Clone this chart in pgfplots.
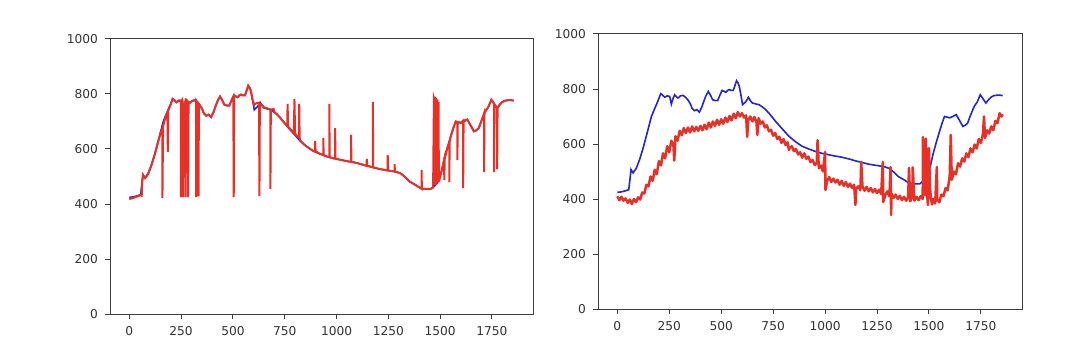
\documentclass[border=0pt]{standalone}
\usepackage{fontspec}
\setmainfont{DejaVu Sans}
\usepackage{pgfplots}
\pgfplotsset{compat=1.18}
\usepackage{pgfplotstable}
\definecolor{mblue}{RGB}{35,35,215}
\definecolor{mred}{RGB}{232,48,38}
\definecolor{frm}{RGB}{60,60,60}

\pgfplotstableread{
x y
0 424
20 426
40 430
55 434
62 480
66 507
76 495
92 513
108 545
124 585
140 630
152 665
164 700
176 722
188 743
200 765
209 783
218 778
228 770
240 775
252 773
260 745
268 765
276 779
284 772
292 767
304 775
316 777
328 770
339 761
350 748
360 730
371 721
383 725
395 716
407 735
419 761
428 778
438 791
448 778
459 761
471 758
483 758
494 778
504 795
513 792
523 788
531 795
539 798
548 795
558 795
566 812
574 830
581 822
587 810
595 778
603 743
610 748
618 753
625 762
631 770
640 758
650 749
665 746
682 743
698 735
714 725
730 712
746 697
762 682
794 655
826 628
858 608
889 592
921 582
953 573
985 566
1017 561
1049 556
1081 552
1113 546
1145 539
1177 533
1208 527
1240 523
1272 519
1292 516
1312 510
1332 497
1352 482
1368 475
1384 468
1398 461
1412 455
1434 455
1455 455
1471 464
1483 474
1495 488
1507 520
1519 561
1535 605
1551 646
1563 675
1575 700
1587 698
1599 695
1615 700
1631 707
1647 686
1663 664
1675 668
1686 676
1702 708
1718 737
1732 752
1747 779
1760 765
1774 749
1786 760
1798 770
1810 775
1822 777
1838 778
1855 776
}\blueT

\pgfplotstableread{
x y
0 418
20 422
40 428
55 432
60 430
62 478
66 505
76 494
92 510
108 543
124 582
140 628
152 660
160 676
160 422
163 682
176 720
184 733
186 590
188 740
200 762
209 782
218 776
228 770
240 777
249 776
249 425
251 772
256 779
260 758
260 425
262 760
266 700
268 765
272 780
272 425
274 778
280 774
284 772
284 425
286 770
292 768
304 775
316 778
322 774
322 425
324 775
328 770
334 766
334 428
336 764
339 761
350 748
360 730
371 721
383 725
395 716
407 735
419 761
428 778
438 791
448 778
459 761
471 758
483 758
494 778
502 790
504 425
506 795
513 792
523 788
531 795
539 798
548 795
558 795
566 812
574 830
581 822
587 810
595 778
603 760
610 765
618 768
626 766
628 429
630 764
640 760
650 752
665 748
681 744
681 455
683 744
697 745
700 735
714 725
730 712
746 697
762 684
764 764
766 682
780 670
794 658
797 782
800 655
812 645
820 640
820 764
822 640
826 630
845 615
858 608
889 592
897 593
897 629
899 592
921 582
936 578
936 640
938 578
953 573
965 570
965 764
967 570
985 566
993 565
993 676
995 565
1017 561
1049 556
1070 553
1070 651
1072 553
1081 552
1113 546
1145 539
1146 564
1148 539
1175 534
1175 771
1177 533
1208 527
1240 523
1247 522
1247 578
1249 522
1272 519
1280 518
1280 545
1282 518
1292 516
1312 510
1332 497
1352 482
1368 475
1384 468
1398 461
1410 455
1410 524
1412 455
1434 455
1455 455
1466 460
1470 785
1472 780
1474 470
1476 790
1478 470
1480 785
1482 475
1486 780
1488 478
1492 770
1494 480
1496 488
1507 520
1519 561
1520 487
1522 565
1535 605
1544 625
1544 480
1546 628
1551 646
1563 675
1575 700
1583 699
1583 560
1585 698
1599 695
1611 703
1611 458
1613 703
1631 707
1647 686
1663 664
1675 668
1686 676
1702 708
1712 730
1712 516
1714 732
1718 737
1732 752
1747 779
1760 765
1760 516
1762 763
1774 749
1775 527
1777 750
1786 760
1798 770
1810 775
1822 777
1838 778
1855 776
}\redL

\pgfplotstableread{
x y
0 410
10 396
20 408
30 394
40 402
50 386
60 398
70 382
80 400
90 388
100 406
110 398
120 424
130 420
140 452
150 446
160 482
170 466
180 506
190 490
200 538
210 522
220 566
230 548
240 592
250 570
260 612
270 596
274 540
280 628
290 612
300 648
310 632
320 658
330 640
340 660
350 642
360 664
370 646
380 662
390 648
400 666
410 650
420 670
430 654
440 678
450 660
460 682
470 666
480 688
490 670
500 690
510 674
520 696
530 680
540 702
550 686
560 710
570 694
580 716
590 700
600 712
610 696
620 704
625 626
630 686
640 700
650 682
660 698
670 678
674 633
680 694
690 674
700 682
710 660
720 668
730 646
740 652
750 630
760 640
770 618
780 626
790 604
800 618
810 596
820 606
826 578
830 586
840 592
850 574
860 582
870 562
880 570
890 550
900 566
910 546
920 554
930 534
940 542
950 524
960 532
964 614
970 512
980 522
990 500
1000 571
1002 433
1010 466
1020 480
1030 462
1040 474
1050 460
1060 470
1070 452
1080 466
1090 448
1100 462
1110 444
1120 456
1130 440
1140 452
1146 378
1150 438
1160 446
1170 432
1174 535
1180 446
1190 430
1200 444
1210 428
1220 440
1230 424
1240 436
1250 422
1260 434
1270 418
1278 535
1280 389
1290 414
1300 428
1310 410
1315 516
1318 342
1320 420
1330 404
1340 416
1350 400
1360 412
1370 396
1380 408
1390 394
1400 406
1404 513
1410 392
1420 406
1422 515
1430 394
1440 408
1450 396
1460 410
1470 400
1471 625
1480 414
1485 620
1490 430
1495 378
1500 585
1505 440
1510 400
1515 380
1520 400
1530 384
1538 516
1540 398
1550 388
1560 416
1570 410
1580 440
1590 432
1600 484
1605 633
1610 470
1620 500
1630 490
1640 530
1650 518
1660 548
1670 536
1680 566
1690 552
1700 584
1710 570
1720 598
1730 584
1740 618
1750 604
1760 636
1765 700
1770 622
1780 650
1790 638
1800 664
1810 650
1820 684
1830 676
1840 712
1850 700
1855 708
}\redR

\begin{document}
\begin{tikzpicture}[x=1pt,y=1pt]
\path[use as bounding box] (0,0) rectangle (540,177);
\pgfplotsset{every axis/.append style={
  scale only axis, height=137.5pt,
  xmin=-93, xmax=1948, ymin=0, ymax=1000,
  xtick={0,250,...,1750}, ytick={0,200,...,1000},
  scaled ticks=false,
  tick align=outside, tick pos=left, major tick length=2.5pt,
  axis line style={frm, line width=0.5pt},
  every tick/.style={frm, line width=0.5pt},
  tick label style={font=\fontsize{6.1}{7}\selectfont, text=black!80},
  /pgf/number format/assume math mode=true,
  /pgf/number format/set thousands separator={},
  anchor=south west}}
\begin{axis}[at={(55pt,20pt)}, width=211.5pt]
\addplot[mblue, line width=0.8pt, no markers] table {\blueT};
\addplot[mred, line width=1.0pt, no markers] table {\redL};
\end{axis}
\begin{axis}[at={(299pt,22.5pt)}, width=212pt]
\addplot[mblue, line width=0.8pt, no markers] table {\blueT};
\addplot[mred, line width=1.25pt, no markers, line join=round] table {\redR};
\end{axis}
\end{tikzpicture}
\end{document}
